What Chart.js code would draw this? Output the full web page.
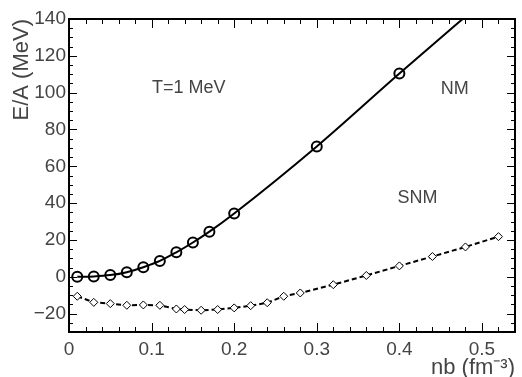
<!DOCTYPE html>
<html lang="en">
<head>
    <meta charset="UTF-8">
    <title>E/A vs nb</title>
    <style>
        html, body { margin: 0; padding: 0; background: #fff; }
        canvas { display: block; }
    </style>
</head>
<body>
    <canvas id="myChart" width="522" height="377"></canvas>

    <script src="https://cdn.jsdelivr.net/npm/chart.js@4/dist/chart.umd.min.js"></script>
    <script>
        // neutron matter (NM), circles + solid line; last point only continues the curve
        var nmX = [0.01, 0.03, 0.05, 0.07, 0.09, 0.11, 0.13, 0.15, 0.17, 0.2, 0.3, 0.4, 0.5];
        var nmY = [0.0, 0.2, 0.9, 2.5, 5.2, 8.6, 13.3, 18.6, 24.5, 34.4, 70.8, 110.4, 149];

        // symmetric nuclear matter (SNM), diamonds + dashed line
        var snmX = [0.01, 0.03, 0.05, 0.07, 0.09, 0.11, 0.13, 0.14, 0.16, 0.18, 0.2, 0.22, 0.24,
                    0.26, 0.28, 0.32, 0.36, 0.4, 0.44, 0.48, 0.52];
        var snmY = [-10.6, -13.9, -14.6, -15.5, -15.3, -15.5, -17.5, -17.8, -18.2, -17.8, -16.9, -15.7, -14.1,
                    -10.6, -8.8, -4.3, 0.7, 5.9, 11.0, 16.2, 21.8];

        var xTicks = [0, 0.1, 0.2, 0.3, 0.4, 0.5];
        var yTicks = [-20, 0, 20, 40, 60, 80, 100, 120, 140];

        var notes = [
            { text: 'T=1 MeV', x: 0.145, y: 102.6 },
            { text: 'NM', x: 0.467, y: 102 },
            { text: 'SNM', x: 0.422, y: 42.5 }
        ];

        var textColor = '#444';
        var fontFamily = '"Liberation Sans", Arial, sans-serif';

        function toPoints(xs, ys) {
            var arr = [];
            for (var i = 0; i < xs.length; i++) {
                arr.push({ x: xs[i], y: ys[i] });
            }
            return arr;
        }

        var nmRadius = nmX.map(function (v, i) { return i < nmX.length - 1 ? 5 : 0; });

        /* ------- frame with inward ticks on all four sides ------- */
        var frame = {
            id: 'frame',
            afterDatasetsDraw: function (chart) {
                var ctx = chart.ctx, a = chart.chartArea;
                var x = chart.scales.x, y = chart.scales.y;
                ctx.save();
                ctx.strokeStyle = '#000';
                ctx.lineWidth = 1;
                ctx.beginPath();
                for (var i = 0; i <= 27; i++) {
                    var px = Math.round(x.getPixelForValue(i * 0.02)) + 0.5;
                    var len = (i % 5 === 0) ? 9 : 5;
                    ctx.moveTo(px, a.bottom); ctx.lineTo(px, a.bottom - len);
                    ctx.moveTo(px, a.top); ctx.lineTo(px, a.top + len);
                }
                for (var v = -30; v <= 140; v += 5) {
                    var py = Math.round(y.getPixelForValue(v)) + 0.5;
                    var l2 = (v % 20 === 0) ? 8 : 4;
                    ctx.moveTo(a.left, py); ctx.lineTo(a.left + l2, py);
                    ctx.moveTo(a.right, py); ctx.lineTo(a.right - l2, py);
                }
                ctx.stroke();
                ctx.lineWidth = 2;
                ctx.strokeRect(a.left, a.top, a.right - a.left, a.bottom - a.top);

                ctx.fillStyle = textColor;
                ctx.font = '18px ' + fontFamily;
                ctx.textAlign = 'center';
                ctx.textBaseline = 'middle';
                notes.forEach(function (n) {
                    ctx.fillText(n.text, x.getPixelForValue(n.x), y.getPixelForValue(n.y));
                });
                ctx.restore();
            }
        };

        var ctx = document.getElementById('myChart').getContext('2d');
        var myChart = new Chart(ctx, {
            type: 'line',
            data: {
                datasets: [
                    {
                        data: toPoints(nmX, nmY),
                        borderColor: '#000',
                        borderWidth: 2,
                        cubicInterpolationMode: 'monotone',
                        pointStyle: 'circle',
                        pointRadius: nmRadius,
                        pointBorderWidth: 2,
                        pointBorderColor: '#000',
                        pointBackgroundColor: 'rgba(0,0,0,0)'
                    },
                    {
                        data: toPoints(snmX, snmY),
                        borderColor: '#000',
                        borderWidth: 2,
                        borderDash: [5, 3],
                        tension: 0,
                        pointStyle: 'rectRot',
                        pointRadius: 4,
                        pointBorderWidth: 1,
                        pointBorderColor: '#000',
                        pointBackgroundColor: '#fff'
                    }
                ]
            },
            options: {
                responsive: false,
                animation: false,
                layout: { padding: { top: 19, right: 3, left: 0, bottom: 0 } },
                plugins: { legend: { display: false }, tooltip: { enabled: false } },
                scales: {
                    x: {
                        type: 'linear',
                        min: 0,
                        max: 0.54,
                        grid: { display: false, drawTicks: false },
                        border: { display: false },
                        afterBuildTicks: function (s) { s.ticks = xTicks.map(function (v) { return { value: v }; }); },
                        afterFit: function (s) { s.height = 45; },
                        ticks: {
                            padding: 6,
                            color: textColor,
                            font: { family: fontFamily, size: 19 },
                            maxRotation: 0,
                            callback: function (v) { return v === 0 ? '0' : v.toFixed(1); }
                        },
                        title: {
                            display: true,
                            text: 'nb (fm\u207B\u00B3)',
                            align: 'end',
                            color: textColor,
                            font: { family: fontFamily, size: 22, lineHeight: 0.8 },
                            padding: 0
                        }
                    },
                    y: {
                        type: 'linear',
                        min: -30,
                        max: 140,
                        grid: { display: false, drawTicks: false },
                        border: { display: false },
                        afterBuildTicks: function (s) { s.ticks = yTicks.map(function (v) { return { value: v }; }); },
                        afterFit: function (s) { s.width = 69; },
                        ticks: {
                            padding: 3,
                            color: textColor,
                            font: { family: fontFamily, size: 19 },
                            callback: function (v) { return v < 0 ? '\u2212' + Math.abs(v) : String(v); }
                        },
                        title: {
                            display: true,
                            text: 'E/A (MeV)',
                            align: 'end',
                            color: textColor,
                            font: { family: fontFamily, size: 22, lineHeight: 1.2 },
                            padding: { top: 9, bottom: 0 }
                        }
                    }
                }
            },
            plugins: [frame]
        });
    </script>
</body>
</html>
